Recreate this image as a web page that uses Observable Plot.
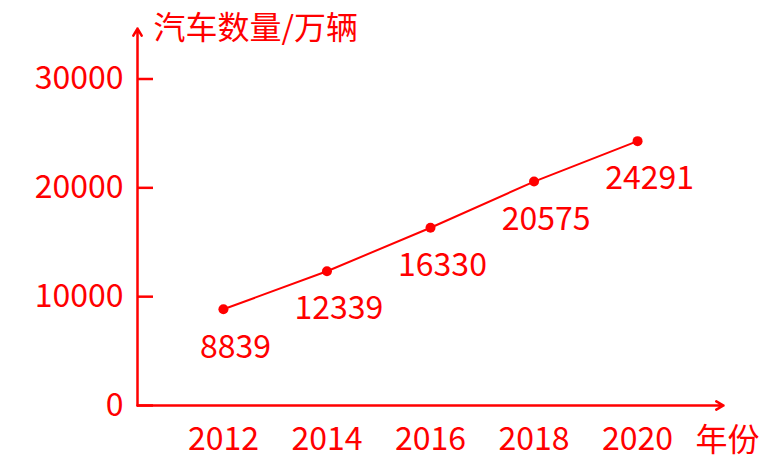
<!DOCTYPE html>
<html>
<head>
<meta charset="utf-8">
<script src="https://cdn.jsdelivr.net/npm/d3@7"></script>
<script src="https://cdn.jsdelivr.net/npm/@observablehq/plot@0.6"></script>
<style>
  html, body { margin: 0; padding: 0; background: #fff; }
  #chart svg { display: block; }
</style>
</head>
<body>
<div id="chart"></div>
<script>
const years = [2012, 2014, 2016, 2018, 2020];
const cars = [8839, 12339, 16330, 20575, 24291];
const yTicks = [0, 10000, 20000, 30000];
const yTitle = "汽车数量/万辆";
const xTitle = "年份";

const RED = "#ff0000";
const FONT = "'Noto Sans CJK SC', 'Noto Sans', sans-serif";
const xDomain = [2010.34, 2021.66];
const yDomain = [0, 34640];

const data = years.map((y, i) => ({year: y, value: cars[i]}));

const chart = Plot.plot({
  width: 774,
  height: 473,
  marginLeft: 137,
  marginRight: 51,
  marginTop: 28,
  marginBottom: 68,
  style: {fontFamily: FONT, fontSize: "32px", color: RED, background: "white"},
  x: {domain: xDomain},
  y: {domain: yDomain},
  marks: [
    Plot.axisY({ticks: yTicks, tickSize: -16, tickPadding: 30, tickFormat: d => String(d), stroke: RED, strokeWidth: 2.5, fill: RED, fontSize: 32, label: null}),
    Plot.axisX({ticks: years, tickSize: 0, tickPadding: 22, tickFormat: d => String(d), fill: RED, fontSize: 32, label: null}),
    Plot.arrow([0], {x1: xDomain[0], x2: xDomain[0], y1: 0, y2: yDomain[1], stroke: RED, strokeWidth: 2.5, headLength: 5, headAngle: 60}),
    Plot.arrow([0], {x1: xDomain[0], x2: xDomain[1], y1: 0, y2: 0, stroke: RED, strokeWidth: 2.5, headLength: 5, headAngle: 60}),
    Plot.line(data, {x: "year", y: "value", stroke: RED, strokeWidth: 2}),
    Plot.dot(data, {x: "year", y: "value", r: 5, fill: RED}),
    Plot.text(data, {x: "year", y: "value", text: d => String(d.value), dx: 12, dy: 38, fill: RED, fontSize: 32}),
    Plot.text([yTitle], {frameAnchor: "top-left", text: d => d, textAnchor: "start", lineAnchor: "middle", dx: 16, dy: 0, fill: RED, fontSize: 32}),
    Plot.text([xTitle], {frameAnchor: "bottom-right", text: d => d, textAnchor: "start", lineAnchor: "middle", dx: -28, dy: 35, fill: RED, fontSize: 32})
  ]
});
document.getElementById("chart").appendChild(chart);
</script>
</body>
</html>
